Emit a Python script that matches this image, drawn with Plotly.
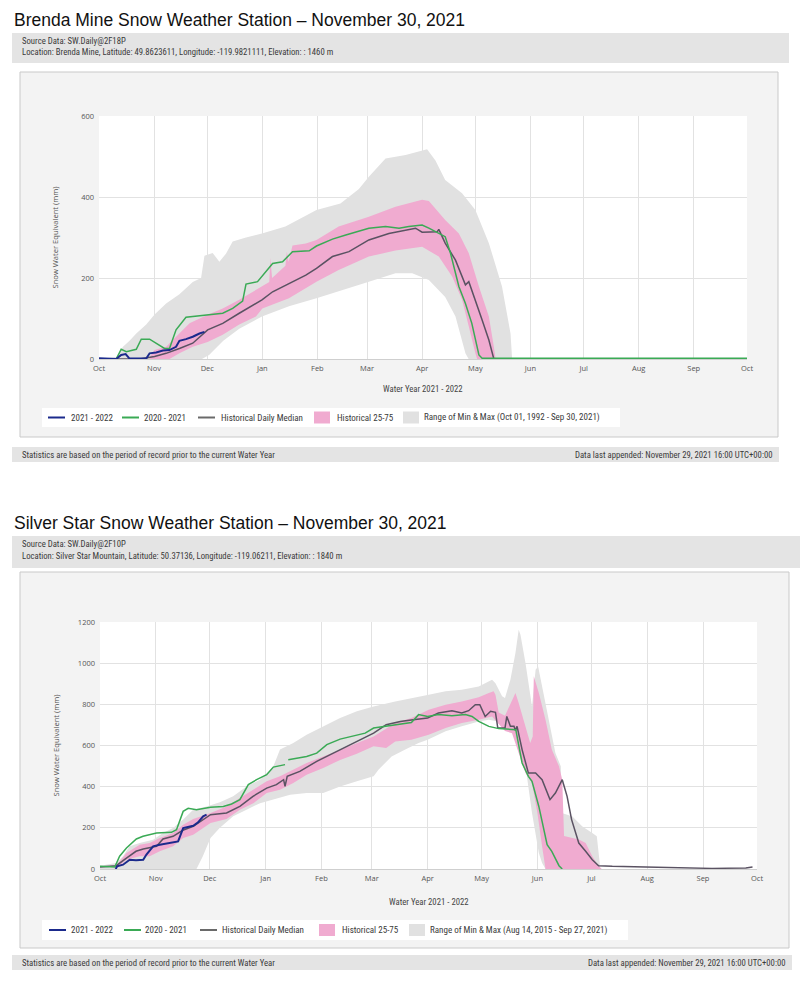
import plotly.graph_objects as go
import pandas as pd

# ---------------- DATA (day offsets from Oct 1, 2021 ; SWE in mm) ----------------
# Brenda Mine
BM_MAX_DAY = [0, 9.7, 13.5, 17.2, 21, 26.6, 31.3, 37.8, 45.3, 52.8, 57.5, 59.4, 64, 67.8, 71.5, 75.3, 82.8, 91.8, 105, 122.5,
              136, 146.4, 152, 161.4, 172.7, 184.8, 189.5, 195, 204.5, 212, 219.6, 227, 231.8, 232.7, 240]
BM_MAX = [0, 5, 30, 45, 63, 85, 110, 137, 160, 190, 200, 255, 262, 240, 260, 290, 300, 310, 327, 368,
          384, 420, 450, 495, 504, 518, 490, 442, 409, 368, 286, 179, 63, 0, 0]
BM_MIN_DAY = [0, 58, 62, 70, 79, 91.8, 107, 122.5, 137, 152, 167, 176.4, 185.8, 195, 200.8, 206.4, 208.2, 240]
BM_MIN = [0, 0, 10, 45, 75, 105, 130, 150, 170, 191, 212, 212, 195, 153, 105, 14, 0, 0]
BM_P75_DAY = [28.5, 31.3, 37.8, 45.3, 51, 61.2, 69.7, 79, 88.4, 95.9, 96.5, 97.5, 105, 105.8, 106.8, 109, 116.5, 122.5, 135, 152,
              167, 182, 185.8, 195, 202.7, 208.3, 214, 219.6, 222.4, 223.4]
BM_P75 = [5, 22, 30, 63, 88, 109, 125, 146, 170, 190, 250, 200, 230, 265, 240, 280, 285, 294, 327, 351,
          376, 393, 390, 343, 310, 261, 179, 105, 30, 0]
BM_P25_DAY = [28.5, 39.7, 45.3, 52.8, 61.2, 69.7, 79, 88.4, 92, 107, 122.5, 135, 152, 167, 182, 191.4, 199, 204.5, 208.3, 212, 213, 223.4]
BM_P25 = [0, 0, 14, 30, 42, 60, 85, 105, 125, 150, 191, 220, 253, 268, 277, 253, 203, 146, 80, 14, 0, 0]
BM_MED_DAY = [0, 22.8, 31.3, 37.8, 45.3, 52.8, 61.2, 69.7, 79, 86.5, 91.8, 97.8, 107, 116.5, 122.5, 131.5, 140.8, 152, 163.3, 172.7,
              178.3, 182, 190.5, 191.4, 195, 200.8, 206.4, 208.3, 212, 215.8, 219.6, 222.4, 365]
BM_MED = [0, 0, 6, 14, 26, 39, 72, 88, 113, 133, 146, 166, 187, 207, 224, 253, 265, 294, 310, 318,
          323, 313, 314, 320, 286, 244, 183, 191, 146, 96, 47, 0, 0]
BM_GRN_DAY = [0, 9.7, 12.5, 15.4, 21, 23.8, 28.5, 32.2, 36.9, 39.7, 43.4, 49, 61.2, 69.7, 75.3, 80.9, 82.8, 89.3, 97.8, 103.4,
              109, 118.4, 122.5, 131.5, 139, 152, 161.4, 169, 174.5, 182, 185.8, 191.4, 195, 198, 202.7, 206.4, 210, 214, 215.8, 365]
BM_GRN = [0, 0, 24, 18, 24, 49, 49, 39, 26, 26, 72, 103, 109, 113, 125, 143, 185, 191, 236, 240,
          265, 267, 279, 296, 306, 323, 327, 323, 327, 331, 323, 310, 302, 261, 179, 137, 88, 10, 2, 2]
BM_BLU_DAY = [0, 9.7, 12.5, 15, 17.2, 26.6, 28.5, 32.2, 36, 39.7, 43.4, 45.3, 49, 52.8, 56.6, 59.4]
BM_BLU = [2, 0, 10, 12, 1, 1, 14, 16, 21, 22, 30, 45, 49, 55, 63, 67]

# Silver Star
SS_MAX_DAY = [0, 9, 12.8, 16.5, 22, 29.5, 35, 40.6, 46.2, 51.8, 59.2, 66.6, 74, 81.4, 88.9, 96.3, 100, 107.4, 114.8, 124,
              133.4, 142.7, 152, 164, 173, 182.6, 192, 201, 210.4, 217.8, 219.7, 223.4, 225, 228, 230.8, 232.6, 233.6, 236.4, 240, 242,
              243.4, 245.6, 249.3, 253, 256, 256.5, 262.3, 268, 273.5, 276, 278, 290]
SS_MAX = [16, 29, 62, 110, 126, 142, 175, 199, 240, 288, 304, 324, 353, 401, 434, 499, 580, 612, 652, 693,
          733, 766, 790, 814, 831, 847, 863, 871, 887, 920, 903, 839, 831, 920, 1049, 1162, 1138, 1000, 790, 968,
          984, 887, 709, 563, 499, 272, 256, 207, 175, 159, 0, 0]
SS_MIN_DAY = [0, 53.6, 57, 61.4, 66.6, 74, 81.4, 88.9, 96.3, 105.6, 114.8, 124, 133.4, 142.7, 152, 154.7, 162, 169.6, 177, 182,
              192, 201, 210.4, 216, 225, 230.8, 236.4, 240, 243.8, 245.6, 247.5, 290]
SS_MIN = [0, 0, 60, 150, 200, 256, 288, 320, 337, 361, 369, 369, 401, 426, 450, 482, 547, 580, 612, 628,
          669, 693, 717, 725, 709, 644, 499, 272, 78, 29, 0, 0]
SS_P75_DAY = [9, 14.7, 22, 27.6, 33.2, 40.6, 46.2, 51.8, 61.4, 70.3, 77.7, 85.2, 92.6, 100, 107.4, 114.8, 124, 133.4, 142.7, 152,
              164, 173, 182.6, 192, 201, 210.4, 216, 218.7, 219.7, 221.5, 225, 228, 230.8, 232.6, 236.4, 239, 240.4, 241, 243.8, 247.5,
              251, 255, 256.8, 257.8, 266, 269.8, 273.5, 277, 278.8]
SS_P75 = [16, 78, 118, 126, 150, 175, 215, 243, 272, 304, 345, 385, 426, 450, 482, 515, 547, 580, 612, 644,
          709, 733, 774, 798, 814, 835, 855, 863, 847, 760, 745, 798, 855, 806, 693, 612, 644, 936, 855, 725,
          580, 499, 434, 160, 143, 126, 62, 13, 0]
SS_P25_DAY = [9, 14.7, 22, 27.6, 33.2, 40.6, 46.2, 51.8, 61.4, 70.3, 77.7, 85.2, 92.6, 100, 107.4, 114.8, 124, 133.4, 142.7, 152,
              159, 164, 173, 182.6, 192, 201, 210.4, 217.8, 225, 228.9, 232.6, 236.4, 240, 243, 245.6, 247.5, 278.8]
SS_P25 = [0, 45, 62, 62, 86, 110, 150, 167, 223, 243, 288, 320, 369, 385, 418, 458, 491, 530, 560, 596,
          588, 620, 628, 652, 685, 709, 725, 741, 670, 660, 563, 466, 418, 272, 110, 0, 0]
SS_MED_DAY = [0, 9, 14.7, 20, 24, 31.4, 35, 40.6, 46, 51.8, 61.4, 70.3, 77.7, 85, 92.6, 98, 102, 102.8, 104, 111,
              120.4, 129.7, 137, 144.5, 152, 159, 166.8, 174, 182, 188, 195.5, 201, 204.8, 208.5, 211, 214, 217, 219.7, 221, 225,
              226, 228, 230, 230.8, 231.7, 234.5, 238, 242, 245.6, 250, 253, 256.8, 259.5, 262, 266, 269.8, 273.5, 277, 284.6, 303,
              321.7, 340, 358.8, 362.5]
SS_MED = [10, 16, 53, 86, 97, 110, 146, 159, 188, 207, 264, 272, 304, 353, 393, 410, 434, 401, 450, 474,
          523, 563, 596, 628, 660, 701, 717, 725, 733, 758, 769, 758, 769, 798, 798, 741, 766, 761, 685, 685,
          741, 693, 693, 673, 693, 580, 466, 466, 434, 337, 369, 434, 353, 240, 126, 86, 45, 16, 13, 10,
          5, 3, 5, 10]
SS_GRN_DAY = [0, 8.2, 10.9, 14.7, 20.2, 23.9, 31.4, 39.7, 42.5, 46.2, 49, 53.6, 61.4, 68.5, 73.1, 77.7, 82.4, 87, 92.6, 96.3,
              102.8, 103.7, 104.6, 114.8, 120.4, 126, 133.4, 142.7, 147.3, 152, 157.5, 166.8, 173, 177, 182, 188, 195.5, 203, 206.7, 210.4,
              216, 221.5, 229, 231, 231.7, 234.5, 238, 240, 243.8, 246.6, 248.4, 251, 255, 256.8]
SS_GRN = [13, 10, 62, 102, 146, 159, 175, 178, 191, 280, 295, 288, 300, 304, 316, 337, 410, 434, 458, 495,
          507, None, 531, 547, 563, 604, 631, 652, 660, 685, 693, 706, 712, 750, 741, 750, 745, 750, 741, 717,
          693, 682, 677, 677, 644, 515, 450, 426, 304, 191, 118, 86, 16, 0]
SS_BLU_DAY = [8.7, 9.5, 12.8, 16.5, 20, 24, 25.8, 29.5, 33.2, 36.9, 43.4, 46.2, 49, 51.8, 54.5, 55.5, 57.3, 59.2]
SS_BLU = [0, 13, 21, 45, 43, 45, 70, 110, 118, 123, 134, 199, 204, 210, 227, 236, 256, 264]

PANEL_TITLES = ["Brenda Mine Snow Weather Station \u2013 November 30, 2021",
                "Silver Star Snow Weather Station \u2013 November 30, 2021"]
SOURCE_LINES = ["Source Data: SW.Daily@2F18P", "Source Data: SW.Daily@2F10P"]
LOCATION_LINES = ["Location: Brenda Mine, Latitude: 49.8623611, Longitude: -119.9821111, Elevation: : 1460 m",
                  "Location: Silver Star Mountain, Latitude: 50.37136, Longitude: -119.06211, Elevation: : 1840 m"]
RANGE_LABELS = ["Range of Min & Max (Oct 01, 1992 - Sep 30, 2021)",
                "Range of Min & Max (Aug 14, 2015 - Sep 27, 2021)"]
Y_TICKS = [[0, 200, 400, 600], [0, 200, 400, 600, 800, 1000, 1200]]
Y_MAX = [600, 1200]
FOOT_LEFT = "Statistics are based on the period of record prior to the current Water Year"
FOOT_RIGHT = "Data last appended: November 29, 2021 16:00 UTC+00:00"
X_TITLE = "Water Year 2021 - 2022"
Y_TITLE = "Snow Water Equivalent (mm)"

# ---------------- helpers ----------------
W, H = 810, 990
BASE = pd.Timestamp("2021-10-01")


def d(days):
    return [BASE + pd.Timedelta(days=v) for v in days]


def px(x):
    return x / W


def py(y):
    return 1 - y / H


C_BLUE = "#1b2a8c"
C_GREEN = "#3aaa55"
C_MED = "#5a5262"
C_PINK = "#f0abd0"
C_GREY = "#e1e1e1"
NARROW = "Liberation Sans Narrow, Roboto Condensed, DejaVu Sans Condensed, Liberation Sans"
TICKF = "Open Sans, Noto Sans, sans-serif"
TXT = "#3a3a3a"

fig = go.Figure()

panels = [
    dict(max_d=BM_MAX_DAY, mx=BM_MAX, min_d=BM_MIN_DAY, mn=BM_MIN, p75_d=BM_P75_DAY, p75=BM_P75,
         p25_d=BM_P25_DAY, p25=BM_P25, med_d=BM_MED_DAY, med=BM_MED, grn_d=BM_GRN_DAY, grn=BM_GRN,
         blu_d=BM_BLU_DAY, blu=BM_BLU),
    dict(max_d=SS_MAX_DAY, mx=SS_MAX, min_d=SS_MIN_DAY, mn=SS_MIN, p75_d=SS_P75_DAY, p75=SS_P75,
         p25_d=SS_P25_DAY, p25=SS_P25, med_d=SS_MED_DAY, med=SS_MED, grn_d=SS_GRN_DAY, grn=SS_GRN,
         blu_d=SS_BLU_DAY, blu=SS_BLU),
]

GEOM = [
    dict(title_y=20, head=(12, 33, 789, 63), src_y=41, loc_y=52,
         cont=(20, 72, 778, 437), plot=(99, 116, 747, 359), xt_y=389,
         leg=(42, 408, 620, 427), leg_x=[48, 122, 198, 314, 403], leg_tx=[69, 142, 219, 335, 422],
         foot=(12, 447, 779, 462), foot_y=454.5),
    dict(title_y=523, head=(12, 536, 800, 568), src_y=544, loc_y=556,
         cont=(20, 572, 789, 948), plot=(100, 622, 757, 869), xt_y=902,
         leg=(42, 920, 628, 940), leg_x=[49, 124, 200, 319, 409], leg_tx=[69, 143, 220, 340, 428],
         foot=(12, 955, 792, 970), foot_y=962.5),
]

shapes = []
annotations = []
SMALL = 8.7
LEGF = 9.0

for i, (P, G) in enumerate(zip(panels, GEOM)):
    xa = "x" if i == 0 else "x2"
    ya = "y" if i == 0 else "y2"
    fig.add_trace(go.Scatter(x=d(P["max_d"] + P["min_d"][::-1]), y=P["mx"] + P["mn"][::-1],
                             fill="toself", fillcolor=C_GREY, line=dict(width=0), mode="lines",
                             hoverinfo="skip", showlegend=False, xaxis=xa, yaxis=ya))
    fig.add_trace(go.Scatter(x=d(P["p75_d"] + P["p25_d"][::-1]), y=P["p75"] + P["p25"][::-1],
                             fill="toself", fillcolor=C_PINK, line=dict(width=0), mode="lines",
                             hoverinfo="skip", showlegend=False, xaxis=xa, yaxis=ya))
    fig.add_trace(go.Scatter(x=d(P["med_d"]), y=P["med"], mode="lines",
                             line=dict(color=C_MED, width=1.5), showlegend=False, xaxis=xa, yaxis=ya))
    fig.add_trace(go.Scatter(x=d(P["grn_d"]), y=P["grn"], mode="lines", connectgaps=False,
                             line=dict(color=C_GREEN, width=1.5), showlegend=False, xaxis=xa, yaxis=ya))
    fig.add_trace(go.Scatter(x=d(P["blu_d"]), y=P["blu"], mode="lines",
                             line=dict(color=C_BLUE, width=2), showlegend=False, xaxis=xa, yaxis=ya))

    annotations.append(dict(text=PANEL_TITLES[i], x=px(12), y=py(G["title_y"]), xref="paper", yref="paper",
                            xanchor="left", yanchor="middle", showarrow=False,
                            font=dict(family="Liberation Sans, Arial", size=17.5, color="#111")))
    x0, y0, x1, y1 = G["head"]
    shapes.append(dict(type="rect", xref="paper", yref="paper", x0=px(x0), x1=px(x1), y0=py(y1), y1=py(y0),
                       fillcolor="#e4e4e4", line=dict(width=0), layer="below"))
    annotations.append(dict(text=SOURCE_LINES[i], x=px(20), y=py(G["src_y"]), xref="paper", yref="paper",
                            xanchor="left", yanchor="middle", showarrow=False,
                            font=dict(family=NARROW, size=SMALL, color=TXT)))
    annotations.append(dict(text=LOCATION_LINES[i], x=px(20), y=py(G["loc_y"]), xref="paper", yref="paper",
                            xanchor="left", yanchor="middle", showarrow=False,
                            font=dict(family=NARROW, size=SMALL, color=TXT)))
    x0, y0, x1, y1 = G["cont"]
    shapes.append(dict(type="rect", xref="paper", yref="paper", x0=px(x0), x1=px(x1), y0=py(y1), y1=py(y0),
                       fillcolor="#f3f3f3", line=dict(width=1, color="#c9c9c9"), layer="below"))
    x0, y0, x1, y1 = G["plot"]
    shapes.append(dict(type="rect", xref="paper", yref="paper", x0=px(x0), x1=px(x1), y0=py(y1), y1=py(y0),
                       fillcolor="white", line=dict(width=0), layer="below"))
    annotations.append(dict(text=X_TITLE, x=px((x0 + x1) / 2), y=py(G["xt_y"]), xref="paper", yref="paper",
                            xanchor="center", yanchor="middle", showarrow=False,
                            font=dict(family=NARROW, size=SMALL, color="#444")))
    annotations.append(dict(text=Y_TITLE, x=px(55), y=py((y0 + y1) / 2), xref="paper", yref="paper",
                            xanchor="center", yanchor="middle", showarrow=False, textangle=-90,
                            font=dict(family=TICKF, size=7.6, color="#555")))
    lx0, ly0, lx1, ly1 = G["leg"]
    shapes.append(dict(type="rect", xref="paper", yref="paper", x0=px(lx0), x1=px(lx1), y0=py(ly1), y1=py(ly0),
                       fillcolor="white", line=dict(width=0), layer="below"))
    cy = (ly0 + ly1) / 2
    leg_labels = ["2021 - 2022", "2020 - 2021", "Historical Daily Median", "Historical 25-75", RANGE_LABELS[i]]
    leg_cols = [C_BLUE, C_GREEN, "#6a6a6a", C_PINK, C_GREY]
    for k in range(5):
        sx = G["leg_x"][k]
        if k < 3:
            shapes.append(dict(type="line", xref="paper", yref="paper", x0=px(sx), x1=px(sx + 17),
                               y0=py(cy), y1=py(cy), line=dict(color=leg_cols[k], width=2)))
        else:
            shapes.append(dict(type="rect", xref="paper", yref="paper", x0=px(sx), x1=px(sx + 16),
                               y0=py(cy + 6), y1=py(cy - 6), fillcolor=leg_cols[k], line=dict(width=0)))
        annotations.append(dict(text=leg_labels[k], x=px(G["leg_tx"][k]), y=py(cy), xref="paper", yref="paper",
                                xanchor="left", yanchor="middle", showarrow=False,
                                font=dict(family=NARROW, size=LEGF, color=TXT)))
    fx0, fy0, fx1, fy1 = G["foot"]
    shapes.append(dict(type="rect", xref="paper", yref="paper", x0=px(fx0), x1=px(fx1), y0=py(fy1), y1=py(fy0),
                       fillcolor="#e4e4e4", line=dict(width=0), layer="below"))
    annotations.append(dict(text=FOOT_LEFT, x=px(20), y=py(G["foot_y"]), xref="paper", yref="paper",
                            xanchor="left", yanchor="middle", showarrow=False,
                            font=dict(family=NARROW, size=SMALL, color=TXT)))
    annotations.append(dict(text=FOOT_RIGHT, x=px(fx1 - 4), y=py(G["foot_y"]), xref="paper", yref="paper",
                            xanchor="right", yanchor="middle", showarrow=False,
                            font=dict(family=NARROW, size=SMALL, color=TXT)))

axis_common_x = dict(type="date", range=["2021-10-01", "2022-10-01"], tick0="2021-10-01", dtick="M1",
                     tickformat="%b", showgrid=True, gridcolor="#e2e2e2", gridwidth=1, ticks="",
                     showline=True, linecolor="#cfcfcf", linewidth=1, zeroline=False, automargin=False,
                     tickfont=dict(family=TICKF, size=7.5, color="#555"), ticklabelstandoff=2)
axis_common_y = dict(showgrid=True, gridcolor="#e2e2e2", gridwidth=1, ticks="", zeroline=False, showline=False,
                     automargin=False, tickfont=dict(family=TICKF, size=7.5, color="#555"), ticklabelstandoff=4)

g0 = GEOM[0]["plot"]
g1 = GEOM[1]["plot"]
fig.update_layout(
    width=W, height=H, margin=dict(l=0, r=0, t=0, b=0, pad=0, autoexpand=False),
    paper_bgcolor="white", plot_bgcolor="rgba(0,0,0,0)",
    showlegend=False,
    xaxis=dict(axis_common_x, domain=[px(g0[0]), px(g0[2])], anchor="y"),
    yaxis=dict(axis_common_y, domain=[py(g0[3]), py(g0[1])], range=[0, Y_MAX[0]], tickvals=Y_TICKS[0], anchor="x"),
    xaxis2=dict(axis_common_x, domain=[px(g1[0]), px(g1[2])], anchor="y2"),
    yaxis2=dict(axis_common_y, domain=[py(g1[3]), py(g1[1])], range=[0, Y_MAX[1]], tickvals=Y_TICKS[1], anchor="x2"),
    shapes=shapes, annotations=annotations,
)

fig.write_html("out.html", config={"displayModeBar": False},
               post_script="document.body.style.margin='0';document.body.style.padding='0';"
                           "document.documentElement.style.overflow='hidden';")
